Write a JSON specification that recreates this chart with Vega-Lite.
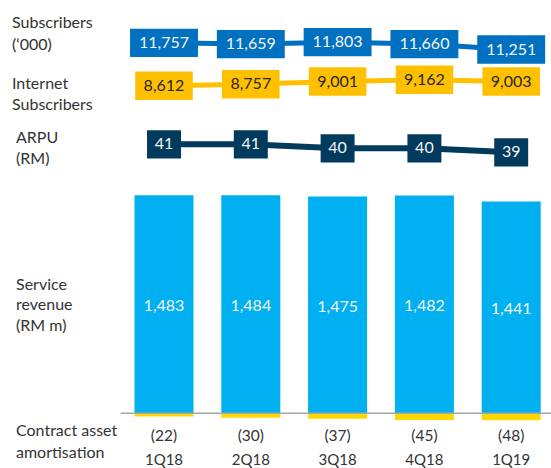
{
  "$schema": "https://vega.github.io/schema/vega-lite/v6.json",
  "width": 551,
  "height": 468,
  "autosize": "none",
  "padding": 0,
  "background": "white",
  "config": {"view": {"stroke": null}, "font": "Lato", "text": {"font": "Lato", "fontSize": 16}},
  "datasets": {
    "quarters": [
      {"q": "1Q18", "subs": 11757, "inet": 8612, "arpu": 41, "rev": 1483, "caa": -22},
      {"q": "2Q18", "subs": 11659, "inet": 8757, "arpu": 41, "rev": 1484, "caa": -30},
      {"q": "3Q18", "subs": 11803, "inet": 9001, "arpu": 40, "rev": 1475, "caa": -37},
      {"q": "4Q18", "subs": 11660, "inet": 9162, "arpu": 40, "rev": 1482, "caa": -45},
      {"q": "1Q19", "subs": 11251, "inet": 9003, "arpu": 39, "rev": 1441, "caa": -48}
    ],
    "one": [{"k": 1}]
  },
  "data": {"name": "quarters"},
  "encoding": {
    "x": {
      "field": "q",
      "type": "nominal",
      "scale": {"type": "band", "domain": ["Label", "1Q18", "2Q18", "3Q18", "4Q18", "1Q19"], "range": [47.7, 540.7], "paddingInner": 0.3203, "paddingOuter": 0},
      "axis": null
    }
  },
  "layer": [
    {
      "layer": [
        {
          "mark": {"type": "bar", "color": "#00B0F0"},
          "encoding": {
            "y": {"field": "rev", "type": "quantitative", "scale": {"domain": [0, 1483], "range": [413.3, 195.3], "nice": false, "zero": false}, "axis": null}
          }
        },
        {
          "mark": {"type": "bar", "color": "#FFD700"},
          "encoding": {
            "y": {"field": "caa", "type": "quantitative"},
            "y2": {"datum": 0}
          }
        },
        {
          "data": {"name": "one"},
          "mark": {"type": "rule", "color": "#A6A6A6", "strokeWidth": 1.5},
          "encoding": {
            "x": {"datum": "Label", "bandPosition": 1.237},
            "x2": {"datum": "1Q19", "bandPosition": 1.175},
            "y": {"datum": 0}
          }
        },
        {
          "mark": {"type": "text", "dy": 23, "color": "#333333", "fontSize": 15.5, "baseline": "middle"},
          "encoding": {
            "y": {"datum": 0},
            "text": {"field": "caa", "type": "quantitative", "format": "(d"}
          }
        },
        {
          "mark": {"type": "text", "dy": 47, "color": "#333333", "fontSize": 15, "baseline": "middle"},
          "encoding": {
            "y": {"datum": 0},
            "text": {"field": "q", "type": "nominal"}
          }
        },
        {
          "data": {"name": "one"},
          "mark": {"type": "text", "align": "left", "dx": -61.2, "dy": 17.7, "color": "#333333", "fontSize": 16, "baseline": "middle", "lineHeight": 21.5},
          "encoding": {
            "x": {"datum": "Label"},
            "y": {"datum": 0},
            "text": {"value": ["Contract asset", "amortisation"]}
          }
        }
      ]
    },
    {
      "layer": [
        {
          "mark": {"type": "text", "color": "#F5F5F5", "fontSize": 16, "baseline": "middle"},
          "encoding": {
            "y": {"field": "rev", "type": "quantitative", "scale": {"domain": [0, 1483], "range": [417, 306], "nice": false, "zero": false}, "axis": null},
            "text": {"field": "rev", "type": "quantitative", "format": ","}
          }
        },
        {
          "data": {"name": "one"},
          "mark": {"type": "text", "align": "left", "dx": -61.2, "dy": -21.5, "color": "#333333", "fontSize": 16, "baseline": "middle", "lineHeight": 20.5},
          "encoding": {
            "x": {"datum": "Label"},
            "y": {"datum": 1483},
            "text": {"value": ["Service", "revenue", "(RM m)"]}
          }
        }
      ]
    },
    {
      "layer": [
        {
          "mark": {"type": "line", "color": "#0070C0", "strokeWidth": 5},
          "encoding": {
            "y": {"field": "subs", "type": "quantitative", "scale": {"domain": [11251, 11803], "range": [49.5, 42.2], "nice": false, "zero": false}, "axis": null}
          }
        },
        {
          "mark": {"type": "point", "shape": "M-2.4,-1H2.4V1H-2.4Z", "size": 801, "filled": true, "color": "#0070C0", "opacity": 1},
          "encoding": {"y": {"field": "subs", "type": "quantitative"}}
        },
        {
          "mark": {"type": "text", "color": "#F5F5F5", "fontSize": 16, "baseline": "middle"},
          "encoding": {
            "y": {"field": "subs", "type": "quantitative"},
            "text": {"field": "subs", "type": "quantitative", "format": ","}
          }
        },
        {
          "data": {"name": "one"},
          "mark": {"type": "text", "align": "left", "dx": -65.2, "dy": -20.3, "color": "#333333", "fontSize": 16, "baseline": "middle", "lineHeight": 22},
          "encoding": {
            "x": {"datum": "Label"},
            "y": {"datum": 11757},
            "text": {"value": ["Subscribers", "(‘000)"]}
          }
        }
      ]
    },
    {
      "layer": [
        {
          "mark": {"type": "line", "color": "#FFC000", "strokeWidth": 5},
          "encoding": {
            "y": {"field": "inet", "type": "quantitative", "scale": {"domain": [8612, 9162], "range": [85.8, 79.8], "nice": false, "zero": false}, "axis": null}
          }
        },
        {
          "mark": {"type": "point", "shape": "M-2.02,-1H2.02V1H-2.02Z", "size": 812, "filled": true, "color": "#FFC000", "opacity": 1},
          "encoding": {"y": {"field": "inet", "type": "quantitative"}}
        },
        {
          "mark": {"type": "text", "color": "#262626", "fontSize": 16, "baseline": "middle"},
          "encoding": {
            "y": {"field": "inet", "type": "quantitative"},
            "text": {"field": "inet", "type": "quantitative", "format": ","}
          }
        },
        {
          "data": {"name": "one"},
          "mark": {"type": "text", "align": "left", "dx": -65.2, "dy": -1.8, "color": "#333333", "fontSize": 16, "baseline": "middle", "lineHeight": 20.5},
          "encoding": {
            "x": {"datum": "Label"},
            "y": {"datum": 8612},
            "text": {"value": ["Internet", "Subscribers"]}
          }
        }
      ]
    },
    {
      "layer": [
        {
          "mark": {"type": "line", "color": "#003A5D", "strokeWidth": 6},
          "encoding": {
            "y": {"field": "arpu", "type": "quantitative", "scale": {"domain": [39, 41], "range": [152.3, 144.3], "nice": false, "zero": false}, "axis": null}
          }
        },
        {
          "mark": {"type": "point", "shape": "M-1.2,-1H1.2V1H-1.2Z", "size": 801, "filled": true, "color": "#003A5D", "opacity": 1},
          "encoding": {"y": {"field": "arpu", "type": "quantitative"}}
        },
        {
          "mark": {"type": "text", "color": "#F5F5F5", "fontSize": 16, "baseline": "middle"},
          "encoding": {
            "y": {"field": "arpu", "type": "quantitative"},
            "text": {"field": "arpu", "type": "quantitative", "format": "d"}
          }
        },
        {
          "data": {"name": "one"},
          "mark": {"type": "text", "align": "left", "dx": -61.2, "dy": -6.8, "color": "#333333", "fontSize": 16, "baseline": "middle", "lineHeight": 21.5},
          "encoding": {
            "x": {"datum": "Label"},
            "y": {"datum": 41},
            "text": {"value": ["ARPU", "(RM)"]}
          }
        }
      ]
    }
  ],
  "resolve": {"scale": {"y": "independent"}}
}
